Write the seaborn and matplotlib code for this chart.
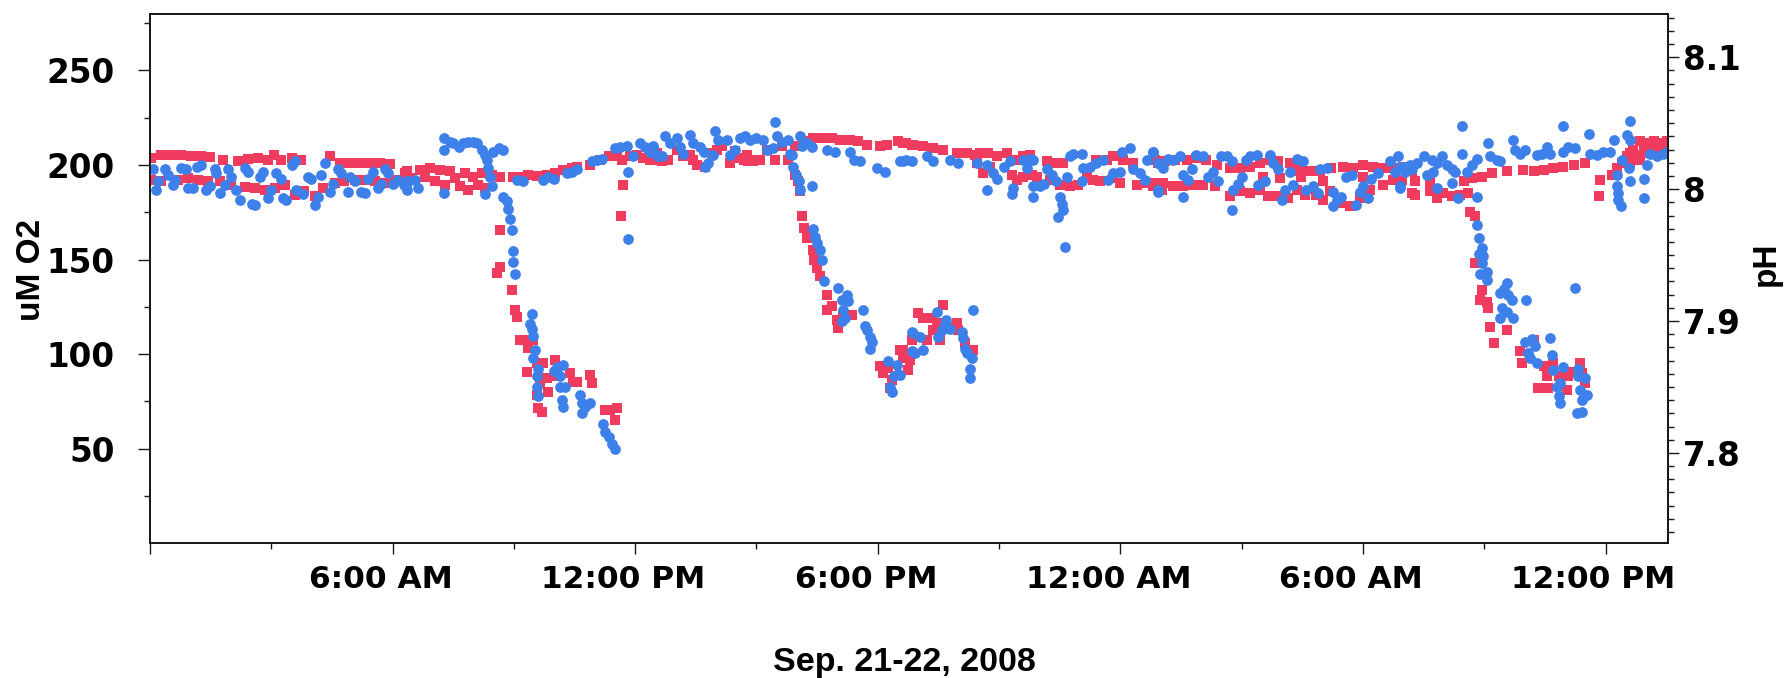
import matplotlib
matplotlib.use("Agg")
import matplotlib.pyplot as plt
import matplotlib.transforms as mtransforms
from matplotlib.ticker import FixedLocator, FuncFormatter, MultipleLocator
import pandas as pd
import seaborn as sns

# Time axis: hours since 00:00 on Sep. 21, 2008
# Dissolved oxygen (uM), (hours, value)
o2_night1 = [
    (0.03, 203.6), (0.28, 205.4), (0.53, 205.4), (0.77, 205.4), (1.02, 204.9), (1.27, 204.5),
    (1.48, 204.2), (1.81, 202.8), (2.18, 201.9), (2.42, 203.1), (2.67, 203.6), (2.92, 202.8),
    (3.07, 205.4), (3.25, 202.8), (3.50, 203.6), (3.74, 202.8), (4.44, 204.5), (4.69, 201.3),
    (4.94, 201.0), (5.19, 201.3), (5.43, 201.3), (5.68, 201.3), (5.93, 200.6), (6.36, 196.6),
    (0.03, 192.2), (0.28, 191.3), (0.69, 192.2), (0.94, 193.1), (1.19, 192.2), (1.43, 191.8),
    (1.72, 191.3), (2.01, 189.5), (2.34, 188.3), (2.59, 187.8), (2.84, 186.9), (3.08, 187.8),
    (3.33, 189.5), (3.58, 184.2), (3.82, 186.0), (4.07, 183.7), (4.28, 187.8), (4.57, 190.4),
    (4.81, 191.3), (5.06, 192.2), (5.31, 192.2), (5.56, 191.3), (5.80, 190.4), (6.05, 192.2),
    (6.30, 193.1),
]
o2_morning1 = [
    (6.31, 195.7), (6.43, 193.1), (6.68, 197.5), (6.80, 193.9), (6.93, 198.4), (7.05, 191.3),
    (7.17, 197.5), (7.30, 189.5), (7.42, 196.6), (7.54, 193.1), (7.67, 188.7), (7.79, 195.7),
    (7.87, 186.9), (8.00, 193.9), (8.12, 189.5), (8.20, 195.7), (8.29, 187.8), (8.45, 194.8),
    (8.66, 193.9), (8.99, 193.9), (9.15, 193.9), (9.36, 194.8), (9.56, 194.3), (9.81, 194.8),
    (10.02, 195.7), (10.22, 197.5), (10.43, 198.4), (10.55, 199.2), (10.88, 200.1), (11.13, 202.8),
    (11.34, 204.5), (11.54, 204.5), (11.67, 202.8), (11.87, 204.5), (12.04, 205.4), (12.20, 203.6),
    (12.37, 202.8), (12.53, 204.5), (12.66, 202.8), (11.69, 189.5), (11.64, 173.1),
]
o2_drop1 = [
    (8.66, 165.7), (8.57, 142.8), (8.66, 146.3), (8.95, 134.0), (9.03, 123.4), (9.07, 119.9),
    (9.15, 107.6), (9.36, 107.6), (9.36, 103.2), (9.48, 107.6), (9.32, 90.8), (9.56, 95.2),
    (9.73, 95.2), (9.81, 87.3), (9.65, 85.5), (9.85, 80.2), (9.56, 78.5), (9.60, 71.4),
    (9.69, 69.6), (10.02, 97.0), (10.06, 88.2), (10.39, 89.9), (10.47, 85.5), (10.55, 85.5),
    (10.88, 89.1), (10.92, 84.6), (11.25, 70.5), (11.38, 70.5), (11.54, 71.4), (11.50, 65.3),
]
o2_afternoon1 = [
    (12.45, 202.8), (12.53, 206.3), (12.66, 201.9), (12.82, 202.8), (13.03, 208.0), (13.19, 204.5),
    (13.36, 205.4), (13.44, 202.8), (13.52, 200.1), (13.73, 199.2), (13.89, 206.3), (14.02, 208.0),
    (14.14, 209.8), (14.35, 201.0), (14.47, 207.2), (14.59, 203.6), (14.68, 202.8), (14.76, 205.4),
    (14.80, 201.9), (14.92, 201.9), (15.00, 202.8), (15.09, 202.8), (15.25, 208.0), (15.46, 202.8),
    (15.62, 209.8), (15.79, 202.8), (15.95, 209.8), (16.16, 212.5), (16.41, 214.2), (16.65, 214.2),
    (16.86, 214.2), (17.07, 213.3), (17.31, 213.3), (17.52, 212.5), (17.73, 210.7), (18.06, 209.8),
    (18.22, 210.7), (18.51, 212.5), (18.71, 211.6), (18.85, 210.7),
]
o2_drop2 = [
    (15.95, 194.8), (16.03, 191.3), (16.08, 186.0), (16.12, 173.1), (16.18, 166.6), (16.24, 161.3),
    (16.41, 155.2), (16.42, 149.9), (16.49, 145.5), (16.57, 141.1), (16.74, 131.4), (16.74, 123.4),
    (16.86, 125.2), (16.98, 118.1), (17.02, 113.7), (17.15, 120.8), (17.36, 120.8), (18.06, 93.5),
    (18.14, 89.9), (18.26, 92.6), (18.34, 86.4), (18.30, 82.0), (18.55, 102.3), (18.63, 97.9),
    (18.76, 91.7), (18.85, 107.6), (18.63, 102.3), (18.76, 91.7), (18.80, 97.0), (18.92, 109.3),
    (19.00, 121.7), (19.13, 119.0), (19.21, 107.6), (19.33, 119.0), (19.37, 112.9), (19.46, 116.4),
    (19.54, 107.6), (19.62, 126.1), (19.83, 114.6), (19.95, 116.4), (19.99, 112.9), (20.16, 105.8),
    (20.36, 102.3),
]
o2_evening = [
    (18.63, 211.6), (18.88, 210.7), (19.13, 209.8), (19.37, 208.9), (19.62, 208.0), (19.95, 206.3),
    (20.20, 206.3), (20.40, 205.4), (20.53, 206.3), (20.73, 206.3), (20.94, 204.5), (21.19, 206.3),
    (21.39, 202.8), (21.60, 204.5), (21.77, 205.4), (20.45, 201.0), (20.61, 195.7), (20.78, 199.2),
    (21.31, 194.8), (21.44, 192.2), (21.60, 193.9), (21.81, 194.8), (21.93, 193.9), (22.18, 201.9),
    (22.34, 201.0), (22.59, 201.0), (22.26, 192.2), (22.51, 189.5), (22.75, 188.7), (22.96, 189.5),
    (23.17, 193.9), (23.33, 192.2), (23.50, 191.3), (23.41, 202.8), (23.66, 202.8), (23.83, 204.5),
    (24.07, 202.8), (24.32, 201.0), (23.83, 193.1), (23.99, 190.4), (24.40, 189.5), (24.65, 190.4),
    (24.82, 188.7), (24.94, 201.0), (25.03, 186.9),
]
o2_night2 = [
    (24.85, 202.8), (25.10, 201.9), (25.35, 202.8), (25.64, 202.8), (25.88, 203.6), (26.13, 202.8),
    (26.38, 200.1), (26.71, 198.4), (26.96, 198.4), (27.20, 199.2), (27.45, 201.0), (27.70, 202.8),
    (27.90, 201.9), (28.19, 201.0), (28.44, 199.2), (28.69, 196.6), (28.93, 196.6), (29.22, 198.4),
    (29.51, 199.2), (29.76, 198.4), (30.01, 200.1), (30.25, 199.2), (30.50, 198.4), (30.75, 198.4),
    (31.00, 199.2), (31.21, 196.6),
    (24.81, 190.4), (25.06, 190.4), (25.31, 188.7), (25.55, 188.7), (25.80, 189.5), (26.05, 189.5),
    (26.34, 188.7), (26.71, 183.4), (26.96, 186.0), (27.20, 185.1), (27.45, 186.9), (27.66, 183.4),
    (27.90, 183.4), (28.15, 182.5), (28.36, 186.9), (28.56, 184.2), (28.85, 184.2), (29.02, 181.6),
    (29.18, 186.0), (29.47, 179.8), (29.68, 178.1), (29.92, 182.5), (30.17, 186.9), (30.50, 189.5),
    (30.75, 192.2), (30.95, 190.4), (31.21, 185.1),
    (29.02, 191.3), (27.53, 193.9), (27.95, 193.1), (28.28, 196.6), (28.48, 193.9), (30.01, 193.9),
]
o2_day2 = [
    (30.96, 192.2), (31.29, 191.3), (31.29, 184.2), (31.66, 186.0), (31.83, 182.5), (31.99, 185.1),
    (32.20, 183.4), (32.40, 184.2), (32.61, 185.1), (31.66, 191.3), (32.49, 191.3), (32.69, 193.1),
    (32.94, 193.9), (33.19, 195.7), (33.56, 196.6), (33.97, 197.5), (34.22, 196.6), (34.47, 197.5),
    (34.71, 198.4), (34.96, 199.2), (35.21, 200.1), (35.50, 201.0), (35.87, 192.2), (35.83, 183.4),
    (36.15, 194.8), (36.28, 198.4), (36.40, 201.0), (36.53, 204.5), (36.69, 208.0), (36.86, 212.5),
    (37.06, 211.6), (37.27, 211.6), (37.43, 210.7), (36.73, 202.8), (37.02, 206.3), (37.19, 208.9),
    (37.52, 209.8), (36.61, 201.0), (36.77, 205.4), (36.94, 209.8), (37.19, 212.5), (36.86, 202.8),
    (36.61, 206.3), (37.35, 207.2), (37.52, 212.5),
]
o2_drop3 = [
    (32.65, 175.4), (32.77, 172.8), (32.77, 148.1), (32.94, 134.0), (32.90, 128.7), (33.06, 127.8),
    (33.10, 124.3), (33.15, 114.6), (33.56, 112.9), (33.23, 105.8), (33.89, 101.4), (33.93, 95.2),
    (34.22, 107.6), (34.47, 93.5), (34.55, 88.2), (34.59, 82.0), (34.34, 82.0), (34.71, 95.2),
    (34.84, 88.2), (35.04, 81.1), (35.08, 88.2), (35.37, 95.2), (35.41, 89.9), (35.50, 84.6),
    (35.17, 90.8),
]

# pH, (hours, value)
ph_night1 = [
    (0.07, 8.015), (0.20, 8.006), (0.16, 7.999), (0.36, 8.015), (0.44, 8.011), (0.57, 8.003),
    (0.61, 8.007), (0.77, 8.016), (0.90, 8.015), (0.94, 8.001), (1.06, 8.001), (1.15, 8.017),
    (1.27, 8.018), (1.39, 7.999), (1.48, 8.002), (1.60, 8.015), (1.64, 8.012), (1.72, 7.997),
    (1.85, 8.003), (1.93, 8.015), (2.01, 8.009), (2.13, 7.999), (2.22, 7.992), (2.34, 8.016),
    (2.42, 8.013), (2.51, 7.989), (2.59, 7.988), (2.71, 8.009), (2.79, 8.013), (2.92, 7.993),
    (3.00, 7.999), (3.12, 8.012), (3.25, 8.008), (3.29, 7.993), (3.37, 7.992), (3.50, 8.018),
    (3.58, 8.021), (3.62, 7.999), (3.78, 7.996), (3.91, 8.009), (3.99, 8.008), (4.07, 7.988),
    (4.15, 7.994), (4.24, 8.011), (4.32, 8.020), (4.44, 7.998), (4.53, 8.004), (4.65, 8.015),
    (4.73, 8.012), (4.90, 7.998), (4.94, 8.009), (5.06, 8.006), (5.23, 7.998), (5.31, 7.997),
    (5.39, 8.008), (5.51, 8.013), (5.64, 8.001), (5.72, 8.004), (5.80, 8.015), (5.89, 8.012),
    (6.01, 8.004), (6.13, 8.007), (6.34, 8.002), (6.38, 8.006),
]
ph_morning1 = [
    (6.27, 8.003), (6.39, 8.006), (6.55, 8.007), (6.64, 8.001), (6.35, 7.999), (7.26, 7.997),
    (7.26, 8.039), (7.42, 8.036), (7.26, 8.030), (7.50, 8.035), (7.63, 8.032), (7.75, 8.035),
    (7.87, 8.036), (7.98, 8.036), (8.08, 8.035), (8.20, 8.030), (8.29, 8.026), (8.33, 8.022),
    (8.37, 8.016), (8.41, 8.009), (8.45, 8.002), (8.29, 7.996), (8.49, 8.028), (8.62, 8.031),
    (8.74, 8.030), (9.07, 8.007), (9.23, 8.006), (9.73, 8.007), (9.85, 8.009), (9.98, 8.008),
    (10.31, 8.012), (10.43, 8.013), (10.55, 8.015), (10.92, 8.021), (11.05, 8.022), (11.17, 8.023),
    (11.50, 8.031), (11.63, 8.032), (11.79, 8.033), (11.95, 8.025), (12.12, 8.035), (12.24, 8.032),
    (12.37, 8.028), (12.45, 8.033), (12.53, 8.026), (12.66, 8.025), (11.83, 8.013), (11.83, 7.962),
]
ph_drop1 = [
    (8.74, 7.994), (8.82, 7.991), (8.86, 7.985), (8.90, 7.977), (8.95, 7.969), (8.99, 7.953),
    (8.99, 7.945), (9.03, 7.936), (9.44, 7.905), (9.40, 7.898), (9.44, 7.894), (9.48, 7.889),
    (9.52, 7.878), (9.48, 7.872), (9.60, 7.864), (9.56, 7.858), (9.56, 7.850), (9.60, 7.843),
    (9.98, 7.862), (10.06, 7.865), (10.14, 7.858), (10.22, 7.867), (10.14, 7.850), (10.26, 7.850),
    (10.18, 7.840), (10.22, 7.835), (10.64, 7.844), (10.68, 7.838), (10.68, 7.830), (10.76, 7.835),
    (10.88, 7.838), (11.21, 7.822), (11.25, 7.816), (11.34, 7.812), (11.42, 7.807), (11.50, 7.803),
]
ph_afternoon1 = [
    (12.45, 8.032), (12.57, 8.025), (12.74, 8.040), (12.86, 8.035), (13.03, 8.039), (13.11, 8.032),
    (13.19, 8.027), (13.36, 8.041), (13.44, 8.035), (13.60, 8.032), (13.69, 8.028), (13.73, 8.017),
    (13.81, 8.020), (13.93, 8.026), (13.97, 8.044), (14.06, 8.037), (14.26, 8.037), (14.35, 8.026),
    (14.47, 8.030), (14.59, 8.039), (14.72, 8.040), (14.84, 8.037), (15.00, 8.039), (15.17, 8.037),
    (15.25, 8.030), (15.42, 8.031), (15.46, 8.051), (15.50, 8.040), (15.62, 8.036), (15.79, 8.037),
    (15.83, 8.027), (16.08, 8.040), (16.12, 8.033), (16.24, 8.035), (16.37, 8.032), (16.74, 8.030),
    (16.94, 8.028), (17.31, 8.028), (17.40, 8.022), (17.56, 8.021), (17.97, 8.016), (18.18, 8.013),
    (18.55, 8.021), (18.71, 8.022),
]
ph_drop2 = [
    (15.87, 8.026), (15.91, 8.017), (15.99, 8.011), (16.04, 8.006), (16.08, 7.999), (16.38, 8.002),
    (16.41, 7.970), (16.45, 7.964), (16.49, 7.959), (16.57, 7.954), (16.61, 7.946), (16.67, 7.930),
    (17.02, 7.925), (17.11, 7.916), (17.23, 7.920), (17.27, 7.915), (17.15, 7.908), (17.11, 7.900),
    (17.19, 7.902), (17.64, 7.908), (17.68, 7.896), (17.73, 7.893), (17.81, 7.888), (17.85, 7.884),
    (17.81, 7.879), (18.26, 7.870), (18.47, 7.867), (18.51, 7.860), (18.39, 7.858), (18.30, 7.850),
    (18.34, 7.846), (18.85, 7.892), (18.85, 7.877),
    (18.55, 7.859), (18.88, 7.891), (18.92, 7.876), (19.04, 7.888), (19.13, 7.878), (19.46, 7.907),
    (19.50, 7.888), (19.58, 7.893), (19.66, 7.898), (19.70, 7.901), (19.79, 7.894), (20.08, 7.892),
    (20.12, 7.887), (20.16, 7.879), (20.20, 7.876), (20.32, 7.872), (20.28, 7.864), (20.28, 7.857),
    (20.36, 7.908),
]
ph_evening = [
    (18.63, 8.021), (18.84, 8.021), (19.21, 8.025), (19.37, 8.021), (19.79, 8.022), (19.99, 8.020),
    (20.45, 8.020), (20.69, 8.018), (20.69, 7.999), (20.86, 8.012), (20.94, 8.008), (21.11, 8.017),
    (21.27, 8.021), (21.35, 8.001), (21.31, 7.996), (21.60, 8.022), (21.77, 8.023), (21.85, 8.022),
    (21.68, 8.016), (21.85, 8.002), (21.85, 7.994), (22.01, 8.002), (22.10, 8.004), (22.18, 8.015),
    (22.30, 8.011), (22.42, 8.006), (22.51, 7.994), (22.55, 7.989), (22.47, 7.979), (22.59, 7.984),
    (22.63, 7.956), (22.67, 8.009), (22.75, 8.025), (22.84, 8.027), (23.04, 8.027), (23.08, 8.016),
    (23.04, 8.006), (23.25, 8.017), (23.41, 8.020), (23.58, 8.022), (23.70, 8.007), (23.83, 8.012),
    (23.99, 8.013), (24.03, 8.028), (24.24, 8.031), (24.32, 8.015), (24.49, 8.012), (24.65, 8.022),
    (24.61, 8.007), (24.82, 8.028), (24.94, 8.020), (24.94, 7.999),
]
ph_night2 = [
    (24.81, 8.028), (24.94, 8.020), (25.06, 8.016), (25.18, 8.023), (25.31, 8.022), (25.47, 8.025),
    (25.55, 8.011), (25.68, 8.007), (25.76, 8.015), (25.88, 8.026), (26.05, 8.025), (26.17, 8.009),
    (26.30, 8.013), (26.42, 8.006), (26.50, 8.025), (26.63, 8.025), (26.75, 8.021), (24.94, 7.998),
    (25.55, 7.994), (26.77, 7.984), (26.79, 7.999), (26.91, 8.004), (27.00, 8.009), (27.12, 8.022),
    (27.20, 8.025), (27.37, 8.026), (27.41, 8.003), (27.57, 8.006), (27.70, 8.026), (27.78, 8.020),
    (27.90, 8.015), (27.99, 7.992), (28.07, 7.999), (28.19, 8.013), (28.28, 8.003), (28.36, 8.023),
    (28.52, 8.021), (28.60, 7.999), (28.77, 8.002), (28.89, 7.997), (28.93, 8.015), (29.10, 8.016),
    (29.26, 7.998), (29.35, 7.992), (29.47, 7.994), (29.26, 7.987), (29.59, 8.009), (29.72, 8.011),
    (29.84, 7.988), (29.92, 7.998), (30.01, 8.002), (30.13, 7.993), (30.21, 8.008), (30.38, 8.012),
    (30.67, 8.021), (30.79, 8.013), (30.87, 8.025), (30.91, 8.001), (31.04, 8.017), (31.21, 8.015),
]
ph_day2 = [
    (30.92, 8.017), (31.04, 8.013), (31.17, 8.018), (31.33, 8.020), (31.50, 8.025), (31.58, 8.011),
    (31.70, 8.022), (31.74, 8.013), (31.83, 8.020), (31.95, 8.025), (32.07, 8.018), (32.20, 8.015),
    (32.28, 8.013), (32.45, 8.027), (32.45, 8.048), (32.57, 8.013), (32.69, 8.018), (32.82, 8.023),
    (32.20, 8.005), (31.84, 8.001), (32.36, 7.993), (32.82, 7.994), (33.10, 8.035), (33.15, 8.025),
    (33.31, 8.022), (33.39, 8.021), (33.72, 8.037), (33.76, 8.030), (33.89, 8.027), (34.01, 8.030),
    (34.30, 8.026), (34.42, 8.027), (34.55, 8.032), (34.63, 8.027), (34.96, 8.028), (34.96, 8.048),
    (35.08, 8.032), (35.25, 8.031), (35.58, 8.042), (35.62, 8.027), (35.78, 8.026), (35.95, 8.028),
    (36.11, 8.028), (36.20, 8.037), (36.40, 8.022), (36.53, 8.041), (36.61, 8.052), (36.61, 8.037),
    (36.28, 8.011), (36.57, 8.016), (36.61, 8.006), (37.02, 8.018), (37.10, 8.027), (37.27, 8.025),
    (37.43, 8.027), (37.52, 8.028), (36.96, 8.008), (36.96, 7.993), (30.92, 8.002), (36.28, 8.002),
    (36.32, 7.997), (36.32, 7.992), (36.38, 7.987),
]
ph_drop3 = [
    (32.82, 7.973), (32.86, 7.963), (32.86, 7.951), (32.94, 7.955), (32.98, 7.949), (32.94, 7.944),
    (32.90, 7.936), (33.06, 7.937), (33.06, 7.931), (33.39, 7.921), (33.48, 7.924), (33.56, 7.929),
    (33.60, 7.920), (33.68, 7.916), (33.43, 7.910), (33.56, 7.907), (33.72, 7.902), (33.39, 7.902),
    (34.03, 7.916), (35.25, 7.925), (34.01, 7.884), (34.18, 7.886), (34.26, 7.881), (34.09, 7.876),
    (34.13, 7.872), (34.30, 7.868), (34.63, 7.887), (34.67, 7.874), (34.71, 7.863), (34.96, 7.865),
    (34.79, 7.850), (34.88, 7.853), (34.84, 7.843), (34.88, 7.838), (35.33, 7.864), (35.33, 7.858),
    (35.50, 7.857), (35.37, 7.848), (35.41, 7.840), (35.54, 7.844), (35.29, 7.830), (35.41, 7.831),
]

# Axis ticks
tick_hours = [0, 6, 12, 18, 24, 30, 36]
tick_labels = ["", "6:00 AM", "12:00 PM", "6:00 PM", "12:00 AM", "6:00 AM", "12:00 PM"]
minor_hours = [3, 9, 15, 21, 27, 33]
o2_major = [50, 100, 150, 200, 250]
o2_minor = [25, 75, 125, 175, 225, 275]
ph_major = [7.8, 7.9, 8.0, 8.1]

RED = "#EF3B5D"
BLUE = "#3E80EA"
INK = "#1a1a1a"
LABEL_FONT = ["Liberation Sans", "DejaVu Sans"]

o2 = pd.DataFrame(
    o2_night1 + o2_morning1 + o2_drop1 + o2_afternoon1 + o2_drop2 + o2_evening
    + o2_night2 + o2_day2 + o2_drop3,
    columns=["hours", "o2"],
)
ph = pd.DataFrame(
    ph_night1 + ph_morning1 + ph_drop1 + ph_afternoon1 + ph_drop2 + ph_evening
    + ph_night2 + ph_day2 + ph_drop3,
    columns=["hours", "ph"],
)

sns.set_style("ticks")
plt.rcParams["font.family"] = ["DejaVu Sans"]
plt.rcParams["font.weight"] = "bold"
plt.rcParams["text.color"] = "black"
plt.rcParams["axes.labelcolor"] = "black"

fig = plt.figure(figsize=(17.86, 6.78), dpi=100)
ax = fig.add_axes([0.0840, 0.1987, 0.8498, 0.7811])
ax2 = ax.twinx()

sns.scatterplot(data=o2, x="hours", y="o2", ax=ax, marker="s", s=62,
                color=RED, linewidth=0, legend=False)
sns.scatterplot(data=ph, x="hours", y="ph", ax=ax2, marker="o", s=60,
                color=BLUE, linewidth=0, legend=False)

ax.set_xlim(0, 37.54)
ax.set_ylim(0, 280)
ax2.set_ylim(7.7315, 8.133)

ax.set_xticks(tick_hours)
ax.set_xticklabels(tick_labels)
ax.xaxis.set_minor_locator(FixedLocator(minor_hours))
ax.yaxis.set_major_locator(FixedLocator(o2_major))
ax.yaxis.set_minor_locator(FixedLocator(o2_minor))
ax2.yaxis.set_major_locator(FixedLocator(ph_major))
ax2.yaxis.set_major_formatter(FuncFormatter(lambda v, _: f"{v:g}"))
ax2.yaxis.set_minor_locator(MultipleLocator(0.01))

for a in (ax, ax2):
    for sp in a.spines.values():
        sp.set_color(INK)
        sp.set_linewidth(1.4)

ax.tick_params(axis="x", which="major", direction="out", length=8, width=1.0,
               color=INK, labelsize=22.5, pad=7.5, labelcolor="black")
ax.tick_params(axis="x", which="minor", direction="out", length=4.2, width=1.0, color=INK)
ax.tick_params(axis="y", which="major", direction="out", length=8.4, width=1.0,
               color=INK, labelsize=23.5, pad=17, labelcolor="black")
ax.tick_params(axis="y", which="minor", direction="out", length=4.3, width=1.0, color=INK)
ax2.tick_params(axis="y", which="major", direction="out", length=7.7, width=1.0,
                color=INK, labelsize=23.5, pad=3.4, labelcolor="black")
ax2.tick_params(axis="y", which="minor", direction="out", length=4.3, width=1.0, color=INK)

# hour labels sit slightly left of their ticks
shift = mtransforms.ScaledTranslation(-0.12, 0, fig.dpi_scale_trans)
for lab in ax.get_xticklabels():
    lab.set_transform(lab.get_transform() + shift)

ax.set_xlabel("Sep. 21-22, 2008", fontsize=24.5, fontweight="bold",
              fontfamily=LABEL_FONT, color="black")
ax.xaxis.label.set_verticalalignment("top")
ax.xaxis.set_label_coords(0.4968, -0.195)

ax.set_ylabel("uM O2", fontsize=24, fontweight="bold", fontfamily=LABEL_FONT, color="black")
ax.yaxis.label.set(rotation=90, rotation_mode="default", ha="center", va="center")
ax.yaxis.set_label_coords(-0.0784, 0.516)

ax2.set_ylabel("pH", fontsize=24, fontweight="bold", fontfamily=LABEL_FONT, color="black")
ax2.yaxis.label.set(rotation=90, rotation_mode="default", ha="center", va="center")
ax2.yaxis.set_label_coords(1.0648, 0.527)

fig.savefig("out.png", dpi=100)
